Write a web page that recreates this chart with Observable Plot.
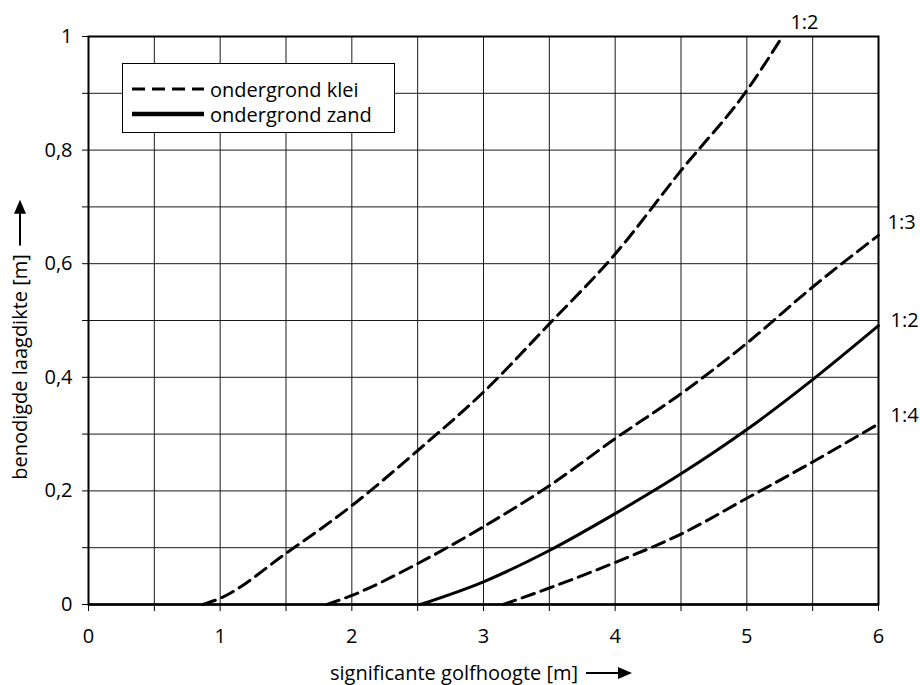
<!DOCTYPE html>
<html><head><meta charset="utf-8">
<script src="https://cdn.jsdelivr.net/npm/d3@7"></script>
<script src="https://cdn.jsdelivr.net/npm/@observablehq/plot@0.6"></script>
<style>
body{margin:0;background:#fff;font-family:"Open Sans",sans-serif;color:#000;}
#wrap{position:relative;width:920px;height:685px;overflow:hidden;}
#legend{position:absolute;left:122px;top:63px;width:271px;height:68px;border:1.5px solid #000;background:#fff;}
.row{position:absolute;left:0;height:26px;display:flex;align-items:center;font-size:20px;white-space:nowrap;}
.row svg{margin-left:9px;margin-right:6px;}
#xtitle{position:absolute;left:330px;top:662px;height:22px;line-height:20px;font-size:20px;white-space:nowrap;display:flex;align-items:center;}
#ytitle{position:absolute;left:20px;top:340px;line-height:22px;font-size:20px;white-space:nowrap;display:flex;align-items:center;transform:translate(-50%,-50%) rotate(-90deg);}
</style></head><body><div id="wrap"></div>
<script>
// grid / tick values
const xGrid = [0, 0.5, 1, 1.5, 2, 2.5, 3, 3.5, 4, 4.5, 5, 5.5, 6];
const yGrid = [0, 0.1, 0.2, 0.3, 0.4, 0.5, 0.6, 0.7, 0.8, 0.9, 1];
const xLabelled = [0, 1, 2, 3, 4, 5, 6];
const yLabelled = [0, 0.2, 0.4, 0.6, 0.8, 1];

// series: ondergrond klei 1:2
const klei12X = [0.87, 1, 1.5, 2, 2.5, 3, 3.5, 4, 4.5, 5, 5.27];
const klei12Y = [0, 0.011, 0.09, 0.174, 0.271, 0.374, 0.494, 0.617, 0.764, 0.905, 1.0];
// ondergrond klei 1:3
const klei13X = [1.81, 2, 2.5, 3, 3.5, 4, 4.5, 5, 5.5, 6];
const klei13Y = [0, 0.016, 0.072, 0.137, 0.209, 0.292, 0.371, 0.46, 0.559, 0.65];
// ondergrond zand 1:2
const zand12X = [2.52, 3, 3.5, 4, 4.5, 5, 5.5, 6];
const zand12Y = [0, 0.04, 0.095, 0.16, 0.23, 0.308, 0.396, 0.491];
// ondergrond klei 1:4
const klei14X = [3.15, 3.5, 4, 4.5, 5, 5.5, 6];
const klei14Y = [0, 0.029, 0.074, 0.124, 0.187, 0.251, 0.318];

const legendLabels = ["ondergrond klei", "ondergrond zand"];
const xTitle = "significante golfhoogte [m]";
const yTitle = "benodigde laagdikte [m]";

const toPts = (xs, ys) => xs.map((x, i) => ({x, y: ys[i]}));
const klei12 = toPts(klei12X, klei12Y);
const klei13 = toPts(klei13X, klei13Y);
const zand12 = toPts(zand12X, zand12Y);
const klei14 = toPts(klei14X, klei14Y);
const last = a => [a[a.length - 1]];

const fmtY = d => {
  if (!yLabelled.some(v => Math.abs(v - d) < 1e-9)) return "";
  return (d === 0 || d === 1) ? String(d) : d.toFixed(1).replace(".", ",");
};
const fmtX = d => xLabelled.includes(d) ? String(d) : "";

const dashed = {x: "x", y: "y", curve: "monotone-x", stroke: "#000", strokeWidth: 3, strokeDasharray: "13,7"};
const solid = {x: "x", y: "y", curve: "monotone-x", stroke: "#000", strokeWidth: 3};
const lab = {x: "x", y: "y", fontSize: 20, textAnchor: "start", fill: "#000"};

const chart = Plot.plot({
  width: 920, height: 685,
  marginLeft: 88, marginRight: 42, marginTop: 36, marginBottom: 81,
  x: {domain: [0, 6]},
  y: {domain: [0, 1]},
  style: {fontFamily: "Open Sans", fontSize: "20px", color: "#000", background: "#fff"},
  marks: [
    Plot.ruleX(xGrid, {stroke: "#1a1a1a", strokeWidth: 1}),
    Plot.ruleY(yGrid, {stroke: "#1a1a1a", strokeWidth: 1}),
    Plot.line(klei12, dashed),
    Plot.line(klei13, dashed),
    Plot.line(klei14, dashed),
    Plot.line(zand12, solid),
    Plot.frame({stroke: "#000", strokeWidth: 2}),
    Plot.ruleY([0], {stroke: "#000", strokeWidth: 2.5}),
    Plot.axisX({ticks: xGrid, tickFormat: fmtX, tickSize: 7, tickPadding: 17, label: null, stroke: "#000"}),
    Plot.axisY({ticks: yGrid, tickFormat: fmtY, tickSize: 6, tickPadding: 10, label: null, stroke: "#000"}),
    Plot.text(last(klei12), {...lab, text: () => "1:2", dx: 8, dy: -14}),
    Plot.text(last(klei13), {...lab, text: () => "1:3", dx: 9, dy: -13}),
    Plot.text(last(zand12), {...lab, text: () => "1:2", dx: 12, dy: -5}),
    Plot.text(last(klei14), {...lab, text: () => "1:4", dx: 12, dy: -8})
  ]
});

const wrap = document.getElementById("wrap");
wrap.appendChild(chart);

// legend
const legend = document.createElement("div");
legend.id = "legend";
const samples = [
  '<svg width="72" height="6"><line x1="0" y1="3" x2="72" y2="3" stroke="#000" stroke-width="3" stroke-dasharray="13,7"/></svg>',
  '<svg width="72" height="6"><line x1="0" y1="3" x2="72" y2="3" stroke="#000" stroke-width="4.5"/></svg>'
];
legendLabels.forEach((t, i) => {
  const r = document.createElement("div");
  r.className = "row";
  r.style.top = (i === 0 ? 12 : 37) + "px";
  r.innerHTML = samples[i] + "<span></span>";
  r.querySelector("span").textContent = t;
  legend.appendChild(r);
});
wrap.appendChild(legend);

const arrowH = '<svg width="46" height="14" style="margin-left:8px"><line x1="0" y1="7" x2="34" y2="7" stroke="#000" stroke-width="2"/><path d="M32,1 L46,7 L32,13 Z" fill="#000"/></svg>';
const xt = document.createElement("div");
xt.id = "xtitle";
xt.innerHTML = "<span></span>" + arrowH;
xt.querySelector("span").textContent = xTitle;
wrap.appendChild(xt);

const yt = document.createElement("div");
yt.id = "ytitle";
yt.innerHTML = "<span></span>" + arrowH;
yt.querySelector("span").textContent = yTitle;
wrap.appendChild(yt);
</script>
</body></html>
